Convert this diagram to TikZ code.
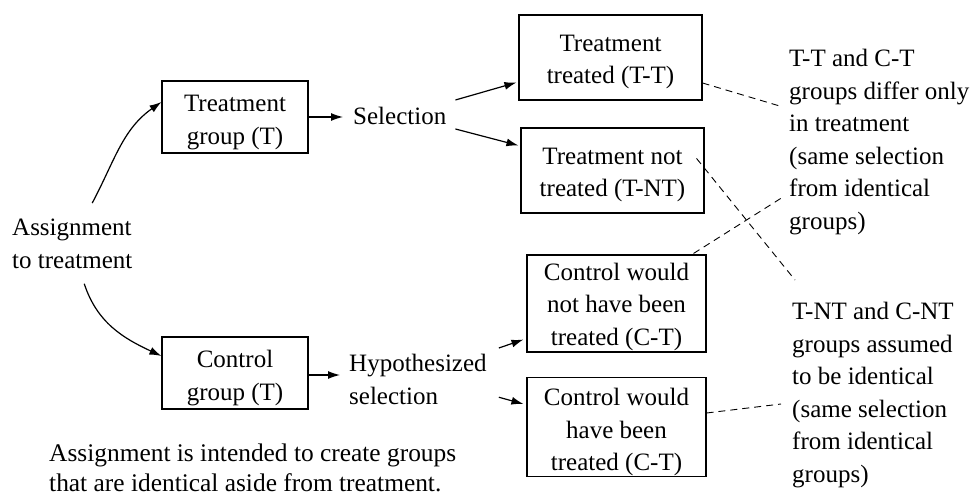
\documentclass[tikz,border=0pt]{standalone}
\usepackage{fontspec}
\setmainfont{Liberation Serif}
\usetikzlibrary{arrows.meta}
\newcommand\upstrut[1]{\rule{0pt}{#1}}
\begin{document}
\begin{tikzpicture}[x=1pt,y=-1pt,
  font=\fontsize{25}{32.5}\selectfont,
  box/.style={draw,line width=1.1pt,inner sep=0pt,align=center},
  txt/.style={inner sep=0pt,align=left,anchor=north west},
  arr/.style={line width=1.2pt,-{Latex[length=12pt,width=8pt]}},
  dsh/.style={line width=0.9pt,dash pattern=on 7pt off 5pt}]
\useasboundingbox (0,0) rectangle (977,497);
% boxes
\node[box,minimum width=146pt,minimum height=72pt] (TG) at (235,117) {\upstrut{27pt}Treatment\\group (T)};
\node[box,minimum width=146pt,minimum height=72pt] (CG) at (235,373) {\upstrut{27pt}Control\\group (T)};
\node[box,minimum width=183pt,minimum height=85pt] (TT) at (610.5,57.5) {\upstrut{25.5pt}Treatment\\treated (T-T)};
\node[box,minimum width=183pt,minimum height=85pt] (TNT) at (612.5,170.5) {\upstrut{25.5pt}Treatment not\\treated (T-NT)};
\node[box,minimum width=179pt,minimum height=97pt] (CNT) at (616.5,303.5) {\upstrut{24pt}Control would\\not have been\\treated (C-T)};
\node[box,minimum width=179pt,minimum height=96pt] (CT) at (616.5,427) {\upstrut{28pt}Control would\\have been\\treated (C-T)};
% texts
\node[txt] (asg) at (12,219) {Assignment\\to treatment};
\node[txt] (sel) at (353,107) {Selection};
\node[txt] (hyp) at (349,354) {Hypothesized\\selection};
\node[txt,font=\fontsize{25.4}{29.5}\selectfont] (bot) at (49,444) {Assignment is intended to create groups\\that are identical aside from treatment.};
\node[txt] (n1) at (789,49) {T-T and C-T\\groups differ only\\in treatment\\(same selection\\from identical\\groups)};
\node[txt] (n2) at (792,302) {T-NT and C-NT\\groups assumed\\to be identical\\(same selection\\from identical\\groups)};
% arrows
\draw[arr] ([xshift=20pt,yshift=16pt]asg.north) to[out=62,in=215] ([yshift=15pt]TG.west);
\draw[arr] ([xshift=12pt,yshift=-15pt]asg.south) to[out=-72,in=155] ([yshift=17pt]CG.west);
\draw[arr,shorten >=10pt] (TG.east) -- (TG.east -| sel.west);
\draw[arr,shorten >=9pt] ([yshift=-2pt]CG.east) -- ([yshift=-2pt]CG.east -| hyp.west);
\draw[arr] ([xshift=9pt,yshift=16pt]sel.east) -- ([xshift=-2pt,yshift=-25pt]TT.west);
\draw[arr] ([xshift=9pt,yshift=-13pt]sel.east) -- ([xshift=-2pt,yshift=25pt]TNT.west);
\draw[arr] ([xshift=12pt,yshift=6pt]hyp.north east) -- ([xshift=-3pt,yshift=13pt]CNT.south west);
\draw[arr] ([xshift=12pt,yshift=-18pt]hyp.east) -- ([xshift=-3pt,yshift=23pt]CT.west);
% dashed
\draw[dsh] ([yshift=-25.5pt]TT.east) -- ([xshift=-6pt,yshift=-58pt]n1.north west);
\draw[dsh] ([xshift=-8pt,yshift=-31pt]TNT.north east) -- ([xshift=3pt,yshift=22pt]n2.north west);
\draw[dsh] ([xshift=-13pt,yshift=1pt]CNT.north east) -- ([xshift=-6pt,yshift=-148pt]n1.north west);
\draw[dsh] ([yshift=14pt]CT.east) -- ([xshift=-11pt,yshift=-102pt]n2.north west);
\end{tikzpicture}
\end{document}
